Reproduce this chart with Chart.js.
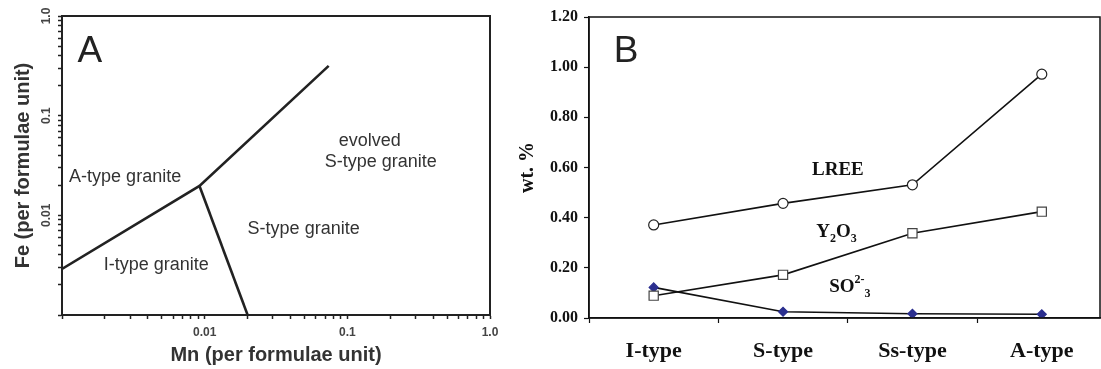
<!DOCTYPE html>
<html>
<head>
<meta charset="utf-8">
<script src="https://cdn.jsdelivr.net/npm/chart.js@4"></script>
<style>
  body { margin: 0; background: #fff; width: 1101px; height: 369px; overflow: hidden; position: relative; }
  canvas { position: absolute; top: 0; }
  #chartA { left: 0; }
  #chartB { left: 505px; }
</style>
</head>
<body>
<canvas id="chartA" width="530" height="369"></canvas>
<canvas id="chartB" width="596" height="369"></canvas>
<script>
// ---- Panel A: Fe vs Mn (log-log) ----
const boundaryUpper = [
    { x: 0.001, y: 0.0029 },
    { x: 0.0092, y: 0.0197 },
    { x: 0.074, y: 0.316 }
];
const boundaryLower = [
    { x: 0.0092, y: 0.0197 },
    { x: 0.02, y: 0.001 }
];
const decades = [0.001, 0.01, 0.1];
const majorTicks = [0.01, 0.1, 1];
const majorLabels = ['0.01', '0.1', '1.0'];
const fieldLabels = ['A-type granite', 'I-type granite', 'S-type granite', 'evolved', 'S-type granite'];
const fieldAt = [[0.00277, 0.0242], [0.00458, 0.00318], [0.0494, 0.0073], [0.1437, 0.0556], [0.1717, 0.0343]];

// ---- Panel B: wt. % by granite type ----
const categories = ['I-type', 'S-type', 'Ss-type', 'A-type'];
const lree = [0.371, 0.457, 0.531, 0.972];
const y2o3 = [0.089, 0.172, 0.338, 0.424];
const so3 = [0.122, 0.025, 0.017, 0.015];
const yTicksB = [0, 0.2, 0.4, 0.6, 0.8, 1.0, 1.2];

// log ticks 1..9 per decade
const logTicks = [];
decades.forEach(d => { for (let k = 1; k <= 9; k++) logTicks.push(d * k); });
logTicks.push(1);

function majorLabel(v) {
    const i = majorTicks.findIndex(m => Math.abs(v / m - 1) < 1e-6);
    return i >= 0 ? majorLabels[i] : '';
}

const sans = 'Liberation Sans, Arial, sans-serif';
const serif = 'Liberation Serif, Times New Roman, serif';

const frame = {
    id: 'frame',
    afterDraw(chart, args, opts) {
        const { ctx, chartArea: a } = chart;
        ctx.save();
        ctx.strokeStyle = opts.color;
        ctx.lineWidth = opts.width;
        ctx.strokeRect(a.left, a.top, a.right - a.left, a.bottom - a.top);
        ctx.restore();
    }
};

function logAxis(label, isX) {
    return {
        type: 'logarithmic',
        min: 0.001,
        max: 1,
        afterBuildTicks: s => { s.ticks = logTicks.map(v => ({ value: v })); },
        afterFit: s => { if (isX) s.height = 54; else s.width = 62; },
        ticks: {
            autoSkip: false,
            minRotation: isX ? 0 : 90,
            maxRotation: isX ? 0 : 90,
            crossAlign: isX ? 'near' : 'center',
            padding: isX ? 6 : 0,
            color: '#444',
            font: { family: sans, size: 12, weight: 'bold' },
            callback: v => majorLabel(v)
        },
        grid: { drawOnChartArea: false, tickLength: 4, tickColor: '#222', tickWidth: 1.5 },
        border: { color: '#222', width: 2 },
        title: {
            display: true,
            text: label,
            color: '#333',
            font: { family: sans, size: 20, weight: 'bold' },
            padding: isX ? { top: 0, bottom: 2 } : { top: 11, bottom: 0 }
        }
    };
}

new Chart(document.getElementById('chartA'), {
    type: 'scatter',
    data: {
        datasets: [
            { data: boundaryUpper, showLine: true, borderColor: '#222', borderWidth: 2.6, pointRadius: 0 },
            { data: boundaryLower, showLine: true, borderColor: '#222', borderWidth: 2.6, pointRadius: 0 }
        ]
    },
    options: {
        responsive: false,
        animation: false,
        layout: { autoPadding: false, padding: { left: 0, right: 40, top: 16, bottom: 0 } },
        plugins: { legend: { display: false }, tooltip: { enabled: false }, frame: { color: '#222', width: 2 } },
        scales: {
            x: logAxis('Mn (per formulae unit)', true),
            y: logAxis('Fe (per formulae unit)', false)
        }
    },
    plugins: [frame, {
        id: 'fieldsA',
        afterDatasetsDraw(chart) {
            const { ctx, scales: { x, y } } = chart;
            ctx.save();
            ctx.textAlign = 'center';
            ctx.textBaseline = 'middle';
            ctx.fillStyle = '#222';
            ctx.font = '37px ' + sans;
            ctx.fillText('A', x.getPixelForValue(0.00157), y.getPixelForValue(0.434));
            ctx.fillStyle = '#333';
            ctx.font = '18px ' + sans;
            fieldLabels.forEach((t, i) => {
                ctx.fillText(t, x.getPixelForValue(fieldAt[i][0]), y.getPixelForValue(fieldAt[i][1]));
            });
            ctx.restore();
        }
    }]
});

// draw a chemical formula made of runs: [text, 0 normal | 1 sub | -1 sup]
function drawFormula(ctx, cx, cy, runs, size) {
    const small = Math.round(size * 0.62);
    const fontOf = k => 'bold ' + (k === 0 ? size : small) + 'px ' + serif;
    let total = 0;
    runs.forEach(([t, k]) => { ctx.font = fontOf(k); total += ctx.measureText(t).width; });
    let px = cx - total / 2;
    ctx.textAlign = 'left';
    ctx.textBaseline = 'middle';
    runs.forEach(([t, k]) => {
        ctx.font = fontOf(k);
        const dy = k === 1 ? size * 0.38 : (k === -1 ? -size * 0.36 : 0);
        ctx.fillText(t, px, cy + dy);
        px += ctx.measureText(t).width;
    });
}

const lineStyle = { borderColor: '#111', borderWidth: 1.6, pointBorderWidth: 1.2 };

new Chart(document.getElementById('chartB'), {
    type: 'line',
    data: {
        datasets: [
            Object.assign({ label: 'LREE', data: lree.map((v, i) => ({ x: i + 1, y: v })),
                pointStyle: 'circle', pointRadius: 5, pointBackgroundColor: '#fff', pointBorderColor: '#222' }, lineStyle),
            Object.assign({ label: 'Y2O3', data: y2o3.map((v, i) => ({ x: i + 1, y: v })),
                pointStyle: 'rect', pointRadius: 6.5, pointBackgroundColor: '#fff', pointBorderColor: '#444' }, lineStyle),
            Object.assign({ label: 'SO3', data: so3.map((v, i) => ({ x: i + 1, y: v })),
                pointStyle: 'rectRot', pointRadius: 4.5, pointBackgroundColor: '#2b2f8f', pointBorderColor: '#2b2f8f' }, lineStyle)
        ]
    },
    options: {
        responsive: false,
        animation: false,
        layout: { autoPadding: false, padding: { left: 0, right: 1, top: 17, bottom: 0 } },
        plugins: { legend: { display: false }, tooltip: { enabled: false }, frame: { color: '#111', width: 1.5 } },
        scales: {
            x: {
                type: 'linear',
                min: 0.5,
                max: 4.45,
                afterBuildTicks: s => { s.ticks = categories.map((c, i) => ({ value: i + 1 })); },
                afterFit: s => { s.height = 51; s.paddingLeft = 0; s.paddingRight = 0; },
                ticks: {
                    autoSkip: false,
                    maxRotation: 0,
                    padding: 15,
                    color: '#111',
                    font: { family: serif, size: 22, weight: 'bold' },
                    callback: v => categories[v - 1]
                },
                grid: { offset: true, drawOnChartArea: false, tickLength: 5, tickColor: '#111', tickWidth: 1.2 },
                border: { color: '#111', width: 1.5 }
            },
            y: {
                min: 0,
                max: 1.2,
                afterBuildTicks: s => { s.ticks = yTicksB.map(v => ({ value: v })); },
                afterFit: s => { s.width = 84; },
                ticks: {
                    padding: 6,
                    color: '#111',
                    font: { family: serif, size: 16, weight: 'bold' },
                    callback: v => v.toFixed(2)
                },
                grid: { drawOnChartArea: false, tickLength: 5, tickColor: '#111', tickWidth: 1.2 },
                border: { color: '#111', width: 1.5 },
                title: {
                    display: true,
                    text: 'wt. %',
                    color: '#111',
                    font: { family: serif, size: 20, weight: 'bold' },
                    padding: { top: 11, bottom: 0 }
                }
            }
        }
    },
    plugins: [frame, {
        id: 'labelsB',
        afterDatasetsDraw(chart) {
            const { ctx, scales: { x, y } } = chart;
            ctx.save();
            ctx.fillStyle = '#222';
            ctx.textAlign = 'center';
            ctx.textBaseline = 'middle';
            ctx.font = '37px ' + sans;
            ctx.fillText('B', x.getPixelForValue(0.786), y.getPixelForValue(1.062));
            ctx.fillStyle = '#111';
            drawFormula(ctx, x.getPixelForValue(2.424), y.getPixelForValue(0.591), [['LREE', 0]], 19);
            drawFormula(ctx, x.getPixelForValue(2.413), y.getPixelForValue(0.343), [['Y', 0], ['2', 1], ['O', 0], ['3', 1]], 19);
            drawFormula(ctx, x.getPixelForValue(2.517), y.getPixelForValue(0.124), [['SO', 0], ['2-', -1], ['3', 1]], 19);
            ctx.restore();
        }
    }]
});
</script>
</body>
</html>
